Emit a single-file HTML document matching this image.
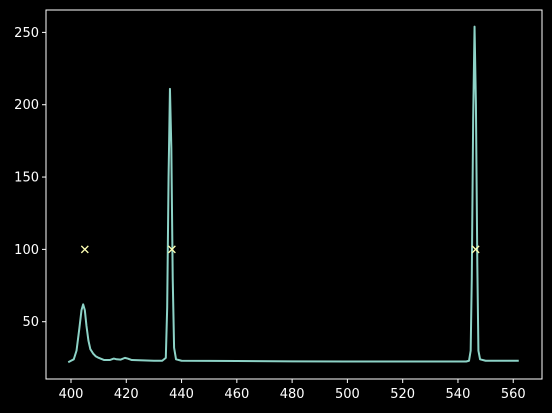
<!DOCTYPE html>
<html><head><meta charset="utf-8"><style>
html,body{margin:0;padding:0;background:#000;}
svg{display:block;}
text{font-family:"DejaVu Sans","Liberation Sans",sans-serif;font-size:13px;fill:#fff;}
</style></head><body>
<svg id="chart" width="552" height="413">
<rect width="552" height="413" fill="#000"/>
<g id="plot"></g>
<g id="axes"></g>
</svg>
<script>
const xValues=[399,400,401,402,403,403.8,404.4,405,405.6,406.3,407,408,409,410,412,414,415.5,416.5,418,419.5,420.5,422,430,433,434.3,434.8,435.3,435.8,436.3,436.8,437.3,438,440,460,480,500,520,543,544,544.6,545,545.5,546,546.5,547,547.4,548,550,562];
const yValues=[22,23,24,30,45,58,62,58,47,37,31,28,26,25,23.5,23.5,24.5,24,23.8,25,24.5,23.5,23,23,25,60,150,211,170,80,32,24,23,22.8,22.6,22.5,22.5,22.5,23,30,80,190,254,200,90,30,24,23,23];
const markerX=[405,436.5,546.4];
const markerY=[100,100,100];
const xTicks=[400,420,440,460,480,500,520,540,560];
const yTicks=[50,100,150,200,250];

const L=46,R=542,T=10,B=379;
const sx=v=>71+(v-400)*2.764;
const sy=v=>321.7-(v-50)*1.4465;
const NS="http://www.w3.org/2000/svg";
function mk(tag,attrs,parent){const e=document.createElementNS(NS,tag);for(const k in attrs)e.setAttribute(k,attrs[k]);parent.appendChild(e);return e;}
const plot=document.getElementById('plot'),axes=document.getElementById('axes');

const line=mk('polyline',{points:xValues.map((x,i)=>sx(x)+','+sy(yValues[i])).join(' '),fill:'none',stroke:'#8dd3c7','stroke-width':2,'stroke-linejoin':'round'},plot);



markerX.forEach((x,i)=>{
  const cx=sx(x),cy=sy(markerY[i]);
  const m=mk('path',{d:`M${cx-3.5},${cy-3.5}L${cx+3.5},${cy+3.5}M${cx-3.5},${cy+3.5}L${cx+3.5},${cy-3.5}`,stroke:'#feffb3','stroke-width':1.3,fill:'none'},plot);
  
  
});

const frame=mk('rect',{x:L,y:T,width:R-L,height:B-T,fill:'none',stroke:'#fff','stroke-width':1},axes);



xTicks.forEach(v=>{
  const x=sx(v);
  const t=mk('line',{x1:x,x2:x,y1:B,y2:B+4,stroke:'#fff','stroke-width':1},axes);
  
  
  const l=mk('text',{x:x,y:B+19,'text-anchor':'middle'},axes);
  l.textContent=v;
  
  
});
yTicks.forEach(v=>{
  const y=sy(v);
  const t=mk('line',{x1:L-4,x2:L,y1:y,y2:y,stroke:'#fff','stroke-width':1},axes);
  
  
  const l=mk('text',{x:L-7,y:y+4.5,'text-anchor':'end'},axes);
  l.textContent=v;
  
  
});
</script>
</body></html>
